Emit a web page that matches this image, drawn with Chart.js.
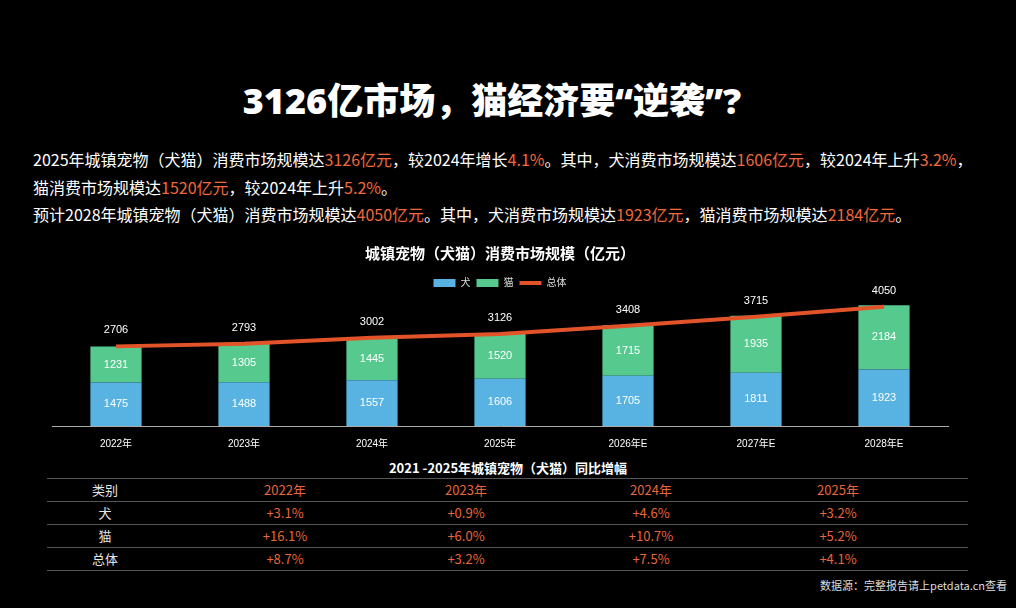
<!DOCTYPE html>
<html>
<head>
<meta charset="utf-8">
<script src="https://cdn.jsdelivr.net/npm/chart.js@4.4.1/dist/chart.umd.min.js"></script>
<style>
  body { margin: 0; background: #000; width: 1016px; height: 608px; overflow: hidden; position: relative;
         font-family: "Noto Sans CJK SC", "Noto Sans", sans-serif; color: #fff; }
  h1 { position: absolute; top: 75px; left: -16px; width: 1016px; margin: 0; text-align: center;
       font-family: "Noto Sans", "Noto Sans CJK SC", sans-serif;
       font-size: 36px; font-weight: 900; line-height: 52px; }
  .intro { position: absolute; left: 33px; top: 146px; font-size: 16px; line-height: 27.5px; white-space: nowrap; }
  .hl { color: #f0683c; }
  #chartBox { position: absolute; left: 0; top: 238px; width: 1016px; height: 216px; }
  .tblTitle { position: absolute; left: 0; width: 1016px; top: 458px; text-align: center;
              font-size: 13px; font-weight: bold; line-height: 20px; }
  #tbl { position: absolute; left: 47px; top: 478px; width: 921px; border-top: 1px solid #555; }
  .row { position: relative; height: 22px; border-bottom: 1px solid #555; }
  .row span { position: absolute; top: 0; line-height: 22px; font-size: 13px; transform: translateX(-50%); white-space: nowrap; }
  .row span.lab { color: #e6e6e6; }
  .row span.val { color: #e8663c; }
  .src { position: absolute; right: 9px; top: 577px; font-size: 11px; color: #ddd; line-height: 16px; }
</style>
</head>
<body>
<h1>3126亿市场，猫经济要“逆袭”?</h1>
<div class="intro">
  2025年城镇宠物（犬猫）消费市场规模达<span class="hl">3126亿元</span>，较2024年增长<span class="hl">4.1%</span>。其中，犬消费市场规模达<span class="hl">1606亿元</span>，较2024年上升<span class="hl">3.2%</span>，<br>
  猫消费市场规模达<span class="hl">1520亿元</span>，较2024年上升<span class="hl">5.2%</span>。<br>
  预计2028年城镇宠物（犬猫）消费市场规模达<span class="hl">4050亿元</span>。其中，犬消费市场规模达<span class="hl">1923亿元</span>，猫消费市场规模达<span class="hl">2184亿元</span>。
</div>
<div id="chartBox"><canvas id="grafica"></canvas></div>
<div class="tblTitle">2021 -2025年城镇宠物（犬猫）同比增幅</div>
<div id="tbl"></div>
<div class="src">数据源：完整报告请上petdata.cn查看</div>

<script>
// ===============================
// DATOS
// ===============================
const categorias = ["2022年", "2023年", "2024年", "2025年", "2026年E", "2027年E", "2028年E"];
const perro = [1475, 1488, 1557, 1606, 1705, 1811, 1923];
const gato = [1231, 1305, 1445, 1520, 1715, 1935, 2184];
const total = [2706, 2793, 3002, 3126, 3408, 3715, 4050];

// tabla de crecimiento
const tablaAnios = ["2022年", "2023年", "2024年", "2025年"];
const filas = ["犬", "猫", "总体"];
const crecPerro = ["+3.1%", "+0.9%", "+4.6%", "+3.2%"];
const crecGato = ["+16.1%", "+6.0%", "+10.7%", "+5.2%"];
const crecTotal = ["+8.7%", "+3.2%", "+7.5%", "+4.1%"];

const fuente = "'Liberation Sans', 'Noto Sans CJK SC', sans-serif";

// ===============================
// TABLA
// ===============================
const colX = [58, 238, 419, 604, 791];
function filaHtml(etiqueta, valores) {
  let html = `<div class="row"><span class="lab" style="left:${colX[0]}px">${etiqueta}</span>`;
  valores.forEach((v, i) => {
    html += `<span class="val" style="left:${colX[i + 1]}px">${v}</span>`;
  });
  return html + "</div>";
}
document.getElementById("tbl").innerHTML =
  filaHtml("类别", tablaAnios) +
  filaHtml(filas[0], crecPerro) +
  filaHtml(filas[1], crecGato) +
  filaHtml(filas[2], crecTotal);

// ===============================
// ETIQUETAS DE VALORES
// ===============================
const etiquetas = {
  id: "etiquetas",
  afterDatasetsDraw(chart) {
    const ctx = chart.ctx;
    ctx.save();
    ctx.textAlign = "center";
    ctx.textBaseline = "middle";
    ctx.fillStyle = "#fff";
    ctx.font = "11px " + fuente;
    chart.data.datasets.forEach((ds, i) => {
      const meta = chart.getDatasetMeta(i);
      meta.data.forEach((el, j) => {
        if (ds.type === "line") {
          ctx.fillText(ds.data[j], el.x, el.y - 16);
        } else {
          ctx.fillText(ds.data[j], el.x, (el.y + el.base) / 2);
        }
      });
    });
    ctx.restore();
  }
};

// ===============================
// GRAFICA
// ===============================
const ctx = document.getElementById("grafica").getContext("2d");
new Chart(ctx, {
  type: "bar",
  data: {
    labels: categorias,
    datasets: [
      { label: "犬", data: perro, backgroundColor: "#58b3e3", stack: "a", order: 1, pointStyle: "rect",
        barPercentage: 0.8, categoryPercentage: 0.5 },
      { label: "猫", data: gato, backgroundColor: "#56c98f", stack: "a", order: 1, pointStyle: "rect",
        barPercentage: 0.8, categoryPercentage: 0.5 },
      { type: "line", label: "总体", data: total, borderColor: "#e2532a", backgroundColor: "#e2532a",
        borderWidth: 4, pointRadius: 0, tension: 0, stack: "t", order: 0, pointStyle: "line" }
    ]
  },
  options: {
    responsive: true,
    maintainAspectRatio: false,
    animation: false,
    layout: { padding: { left: 52, right: 68, top: 0, bottom: 0 } },
    plugins: {
      title: {
        display: true,
        text: "城镇宠物（犬猫）消费市场规模（亿元）",
        color: "#fff",
        font: { size: 15, weight: "bold", family: fuente },
        padding: { top: 8, bottom: 8 }
      },
      legend: {
        labels: {
          color: "#ddd",
          font: { size: 10, family: fuente },
          usePointStyle: true,
          pointStyleWidth: 22,
          boxHeight: 8,
          padding: 6,
          sort: (a, b) => a.datasetIndex - b.datasetIndex
        }
      },
      tooltip: { enabled: false }
    },
    scales: {
      x: {
        stacked: true,
        grid: { display: false },
        border: { display: true, color: "#aaa", width: 1 },
        ticks: { color: "#fff", font: { size: 10, family: fuente }, padding: 4 }
      },
      y: {
        stacked: true,
        display: false,
        min: 0,
        max: 4350
      }
    }
  },
  plugins: [etiquetas]
});
</script>
</body>
</html>
